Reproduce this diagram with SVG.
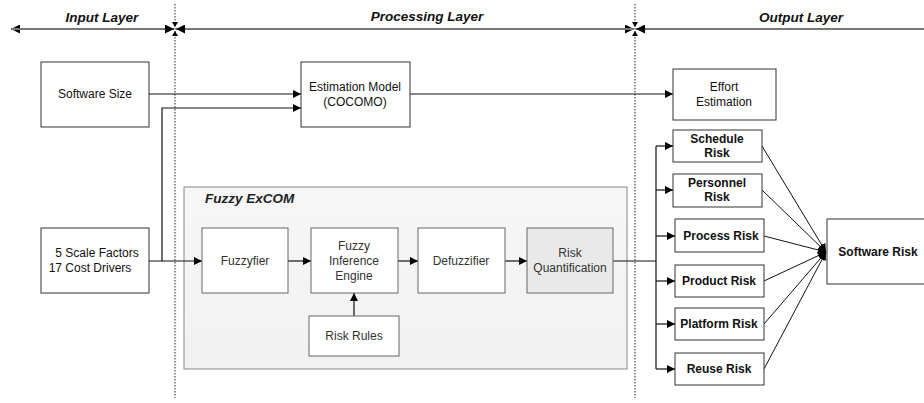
<svg xmlns="http://www.w3.org/2000/svg" width="924" height="403" viewBox="0 0 924 403">
<style>
text{font-family:"Liberation Sans",Arial,sans-serif;font-size:12px;fill:#111;text-anchor:middle}
.layer{font-size:13.5px;font-weight:bold;font-style:italic}
.b{font-weight:bold}
.g{fill:#333}
.box{fill:#fff;stroke:#333;stroke-width:1}
.ibox{fill:#fff;stroke:#666;stroke-width:1}
.conn{stroke:#111;stroke-width:1.2;fill:none}
.axis{stroke:#777;stroke-width:2;fill:none}
.vdash{stroke:#222;stroke-width:1;stroke-dasharray:1.5 1.5;fill:none}
</style>
<defs>
<marker id="ah" viewBox="0 0 10 10" refX="10" refY="5" markerWidth="9" markerHeight="8" markerUnits="userSpaceOnUse" orient="auto"><path d="M0,0 L10,5 L0,10 z" fill="#000"/></marker>
<marker id="ax" viewBox="0 0 10 10" refX="10" refY="5" markerWidth="9" markerHeight="9" markerUnits="userSpaceOnUse" orient="auto"><path d="M0,0 L10,5 L0,10 z" fill="#000"/></marker>
<linearGradient id="fz" x1="0" y1="0" x2="0" y2="1"><stop offset="0" stop-color="#f7f7f7"/><stop offset="1" stop-color="#f1f1f1"/></linearGradient>
</defs>

<g id="layers">
<line class="vdash" x1="175" y1="4" x2="175" y2="398"/>
<line class="vdash" x1="635" y1="4" x2="635" y2="398"/>
<line class="axis" x1="174" y1="29" x2="11" y2="29" marker-end="url(#ax)"/>
<line class="axis" x1="12" y1="29" x2="174" y2="29" marker-end="url(#ax)"/>
<line class="axis" x1="176" y1="29" x2="634" y2="29" marker-end="url(#ax)"/>
<line class="axis" x1="634" y1="29" x2="176" y2="29" marker-end="url(#ax)"/>
<line class="axis" x1="924" y1="29" x2="636" y2="29" marker-end="url(#ax)"/>
<path d="M172,22 L175,27 L178,22 z M172,36 L175,31 L178,36 z M632,22 L635,27 L638,22 z M632,36 L635,31 L638,36 z" fill="#000"/>
<text class="layer" x="102" y="22">Input Layer</text>
<text class="layer" x="427" y="21">Processing Layer</text>
<text class="layer" x="801" y="22">Output Layer</text>
</g>

<g id="fuzzy-excom">
<rect x="184" y="187" width="443" height="182" fill="url(#fz)" stroke="#888" stroke-width="1"/>
<text class="layer" x="205" y="203" style="text-anchor:start;fill:#222">Fuzzy ExCOM</text>
</g>

<g id="connectors">
<line class="conn" x1="149" y1="94" x2="301" y2="94" marker-end="url(#ah)"/>
<polyline class="conn" points="149,261 162,261 162,108 301,108" marker-end="url(#ah)"/>
<line class="conn" x1="162" y1="261" x2="202" y2="261" marker-end="url(#ah)"/>
<line class="conn" x1="410" y1="94" x2="673" y2="94" marker-end="url(#ah)"/>
<line class="conn" x1="288" y1="261" x2="311" y2="261" marker-end="url(#ah)"/>
<line class="conn" x1="398" y1="261" x2="418" y2="261" marker-end="url(#ah)"/>
<line class="conn" x1="505" y1="261" x2="527" y2="261" marker-end="url(#ah)"/>
<line class="conn" x1="354" y1="316" x2="354" y2="293" marker-end="url(#ah)"/>
<line class="conn" x1="613" y1="261" x2="656" y2="261"/>
<line class="conn" x1="656" y1="146" x2="656" y2="369"/>
<line class="conn" x1="656" y1="146" x2="673" y2="146" marker-end="url(#ah)"/>
<line class="conn" x1="656" y1="190" x2="673" y2="190" marker-end="url(#ah)"/>
<line class="conn" x1="656" y1="236" x2="675" y2="236" marker-end="url(#ah)"/>
<line class="conn" x1="656" y1="281" x2="675" y2="281" marker-end="url(#ah)"/>
<line class="conn" x1="656" y1="324" x2="675" y2="324" marker-end="url(#ah)"/>
<line class="conn" x1="656" y1="369" x2="675" y2="369" marker-end="url(#ah)"/>
<g stroke-width="1">
<line class="conn" x1="762" y1="146" x2="826" y2="252" style="stroke-width:1" marker-end="url(#ah)"/>
<line class="conn" x1="762" y1="190" x2="826" y2="252" style="stroke-width:1" marker-end="url(#ah)"/>
<line class="conn" x1="764" y1="236" x2="826" y2="252" style="stroke-width:1" marker-end="url(#ah)"/>
<line class="conn" x1="764" y1="281" x2="826" y2="252" style="stroke-width:1" marker-end="url(#ah)"/>
<line class="conn" x1="764" y1="324" x2="826" y2="252" style="stroke-width:1" marker-end="url(#ah)"/>
<line class="conn" x1="764" y1="369" x2="826" y2="252" style="stroke-width:1" marker-end="url(#ah)"/>
</g>
</g>

<g id="software-size"><rect class="box" x="41" y="62" width="108" height="65"/><text x="95" y="98">Software Size</text></g>
<g id="scale-factors"><rect class="box" x="41" y="228" width="108" height="65"/><text x="97" y="257">5 Scale Factors</text><text x="90" y="272">17 Cost Drivers</text></g>
<g id="estimation-model"><rect class="box" x="301" y="62" width="109" height="65"/><text x="355" y="91">Estimation Model</text><text x="355" y="106">(COCOMO)</text></g>
<g id="effort-estimation"><rect class="box" x="673" y="69" width="103" height="51"/><text x="724" y="91">Effort</text><text x="724" y="106">Estimation</text></g>

<g id="fuzzyfier"><rect class="ibox" x="202" y="228" width="86" height="65"/><text class="g" x="245" y="265">Fuzzyfier</text></g>
<g id="inference-engine"><rect class="ibox" x="311" y="228" width="87" height="65"/><text class="g" x="354" y="250">Fuzzy</text><text class="g" x="354" y="265">Inference</text><text class="g" x="354" y="280">Engine</text></g>
<g id="defuzzifier"><rect class="ibox" x="418" y="228" width="87" height="65"/><text class="g" x="461" y="265">Defuzzifier</text></g>
<g id="risk-quantification"><rect class="ibox" x="527" y="228" width="86" height="65" style="fill:#e9e9e9"/><text class="g" x="570" y="257">Risk</text><text class="g" x="570" y="272">Quantification</text></g>
<g id="risk-rules"><rect class="ibox" x="309" y="316" width="90" height="40"/><text class="g" x="354" y="340">Risk Rules</text></g>

<g id="schedule-risk"><rect class="box" x="673" y="130" width="89" height="32"/><text class="b" x="717" y="143">Schedule</text><text class="b" x="717" y="157">Risk</text></g>
<g id="personnel-risk"><rect class="box" x="673" y="174" width="89" height="33"/><text class="b" x="717" y="187">Personnel</text><text class="b" x="717" y="201">Risk</text></g>
<g id="process-risk"><rect class="box" x="675" y="219" width="89" height="33"/><text class="b" x="721" y="240">Process Risk</text></g>
<g id="product-risk"><rect class="box" x="675" y="265" width="89" height="32"/><text class="b" x="719" y="285">Product Risk</text></g>
<g id="platform-risk"><rect class="box" x="675" y="308" width="89" height="32"/><text class="b" x="719" y="328">Platform Risk</text></g>
<g id="reuse-risk"><rect class="box" x="675" y="353" width="89" height="32"/><text class="b" x="719" y="373">Reuse Risk</text></g>
<g id="software-risk"><rect class="box" x="827" y="219" width="100" height="65"/><text class="b" x="878" y="256">Software Risk</text></g>
</svg>
